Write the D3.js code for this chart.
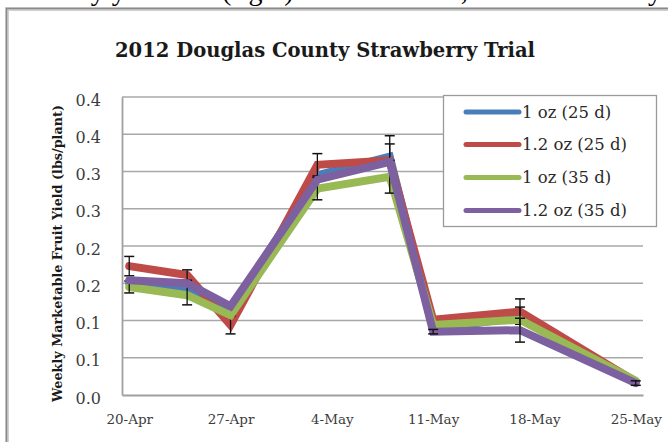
<!DOCTYPE html>
<html><head><meta charset="utf-8">
<script src="https://cdn.jsdelivr.net/npm/d3@7"></script>
<style>html,body{margin:0;padding:0;background:#fff;}svg{display:block;}</style>
</head><body>
<script>
const dates = ["2012-04-20","2012-04-24","2012-04-27","2012-05-03","2012-05-08","2012-05-11","2012-05-17","2012-05-25"];
const seriesNames = ["1 oz (25 d)","1.2 oz (25 d)","1 oz (35 d)","1.2 oz (35 d)"];
const blue   = [0.150,0.139,0.113,0.295,0.320,0.088,0.105,0.018];
const red    = [0.173,0.161,0.094,0.309,0.315,0.101,0.112,0.018];
const green  = [0.145,0.134,0.107,0.277,0.293,0.094,0.101,0.019];
const purple = [0.154,0.150,0.119,0.289,0.313,0.085,0.087,0.016];
const blueErr   = [0,0,0,0,0.028,0,0,0];
const redErr    = [0.013,0.007,0.012,0.015,0.022,0,0.017,0];
const greenErr  = [0.008,0.013,0,0.015,0.022,0,0.017,0];
const purpleErr = [0,0,0,0,0,0.003,0.016,0.003];
const colors = ["#4a7ebb","#be4b48","#98b954","#7d60a0"];
const yTicks = [0,0.05,0.1,0.15,0.2,0.25,0.3,0.35,0.4];
const yTickLabels = ["0.0","0.1","0.1","0.2","0.2","0.3","0.3","0.4","0.4"];
const xTickDates = ["2012-04-20","2012-04-27","2012-05-04","2012-05-11","2012-05-18","2012-05-25"];
const xTickLabels = ["20-Apr","27-Apr","4-May","11-May","18-May","25-May"];
const title = "2012 Douglas County Strawberry Trial";
const yTitle = "Weekly Marketable Fruit Yield (lbs/plant)";

const W = 668, H = 442;
const parse = d3.utcParse("%Y-%m-%d");
const day = 864e5;
const svg = d3.select("body").append("svg").attr("width", W).attr("height", H);

// caption fragment of the surrounding document, cut off at the top edge
const cap = svg.append("text").attr("y", 0).attr("font-family","Liberation Serif").attr("font-size",28).attr("fill","#000");
cap.append("tspan").attr("x", 20).text("Weekly yield");
cap.append("tspan").attr("x", 222).text("(right)");
cap.append("tspan").attr("x", 380).text("harvest,");
cap.append("tspan").attr("x", 634).text("by");

// chart frame
svg.append("rect").attr("x",7).attr("y",9).attr("width",720).attr("height",500).attr("fill","#fff").attr("stroke","#d0d0d0").attr("stroke-width",4);
svg.append("rect").attr("x",6.5).attr("y",8.5).attr("width",720).attr("height",500).attr("fill","none").attr("stroke","#8a8a8a").attr("stroke-width",1.5);

const x0 = parse(xTickDates[0]).getTime() - 0.5*day;
const x1 = parse(xTickDates[xTickDates.length-1]).getTime() + 0.5*day;
const x = d3.scaleUtc().domain([new Date(x0), new Date(x1)]).range([122, 643]);
const y = d3.scaleLinear().domain([0, 0.4]).range([395, 97]);

// gridlines
svg.append("g").selectAll("line").data(yTicks.slice(1)).join("line")
  .attr("x1",122).attr("x2",643).attr("y1",d=>y(d)).attr("y2",d=>y(d))
  .attr("stroke","#a8a8a8").attr("stroke-width",1.6);

// axes
const yAxis = svg.append("g").attr("transform","translate(122,0)")
  .call(d3.axisLeft(y).tickValues(yTicks).tickFormat((d,i)=>yTickLabels[i]).tickSize(0).tickPadding(21));
yAxis.select(".domain").attr("stroke","#a0a0a0").attr("stroke-width",1.8);
yAxis.selectAll("text").attr("font-family","DejaVu Serif").attr("font-size",16).attr("fill","#3c3c3c").attr("dy","0.5em");

const xAxis = svg.append("g").attr("transform","translate(0,395)")
  .call(d3.axisBottom(x).tickValues(xTickDates.map(parse)).tickFormat((d,i)=>xTickLabels[i]).tickSize(0).tickPadding(19));
xAxis.select(".domain").attr("stroke","#a0a0a0").attr("stroke-width",1.8);
xAxis.selectAll("text").attr("font-family","DejaVu Serif").attr("font-size",13.5).attr("fill","#3c3c3c");

// titles
svg.append("text").attr("x",115).attr("y",57).attr("font-family","DejaVu Serif").attr("font-weight","bold")
  .attr("font-size",20).attr("fill","#1a1a1a").attr("textLength",420).attr("lengthAdjust","spacingAndGlyphs").text(title);
svg.append("text").attr("transform","translate(62,402) rotate(-90)").attr("font-family","DejaVu Serif").attr("font-weight","bold")
  .attr("font-size",12.5).attr("fill","#1a1a1a").attr("textLength",297).attr("lengthAdjust","spacingAndGlyphs").text(yTitle);

// series
const allVals = [blue, red, green, purple];
const allErr = [blueErr, redErr, greenErr, purpleErr];
const line = d3.line().x(d=>x(d.date)).y(d=>y(d.v));
allVals.forEach((vals, si) => {
  const pts = vals.map((v,i)=>({date: parse(dates[i]), v, e: allErr[si][i]}));
  const g = svg.append("g");
  g.append("path").datum(pts).attr("d", line).attr("fill","none")
    .attr("stroke", colors[si]).attr("stroke-width", 8).attr("stroke-linejoin","miter").attr("stroke-linecap","round");
  const eb = g.selectAll("g.eb").data(pts.filter(d=>d.e>0)).join("g");
  eb.append("line").attr("x1",d=>x(d.date)).attr("x2",d=>x(d.date)).attr("y1",d=>y(d.v-d.e)).attr("y2",d=>y(d.v+d.e))
    .attr("stroke","#111").attr("stroke-width",1.3);
  eb.append("line").attr("x1",d=>x(d.date)-5).attr("x2",d=>x(d.date)+5).attr("y1",d=>y(d.v+d.e)).attr("y2",d=>y(d.v+d.e))
    .attr("stroke","#111").attr("stroke-width",1.5);
  eb.append("line").attr("x1",d=>x(d.date)-5).attr("x2",d=>x(d.date)+5).attr("y1",d=>y(d.v-d.e)).attr("y2",d=>y(d.v-d.e))
    .attr("stroke","#111").attr("stroke-width",1.5);
});

// legend
const lg = svg.append("g");
lg.append("rect").attr("x",443.5).attr("y",95.5).attr("width",213).attr("height",131).attr("fill","#fff").attr("stroke","#9a9a9a").attr("stroke-width",1.3);
const legendY = [112, 144.5, 177.5, 210.5];
seriesNames.forEach((name, i) => {
  lg.append("line").attr("x1",466).attr("x2",519).attr("y1",legendY[i]).attr("y2",legendY[i])
    .attr("stroke",colors[i]).attr("stroke-width",5).attr("stroke-linecap","round");
  lg.append("text").attr("x",522).attr("y",legendY[i]).attr("dy","0.36em").attr("font-family","DejaVu Serif")
    .attr("font-size",16.5).attr("fill","#2a2a2a").text(name);
});
</script>
</body></html>
